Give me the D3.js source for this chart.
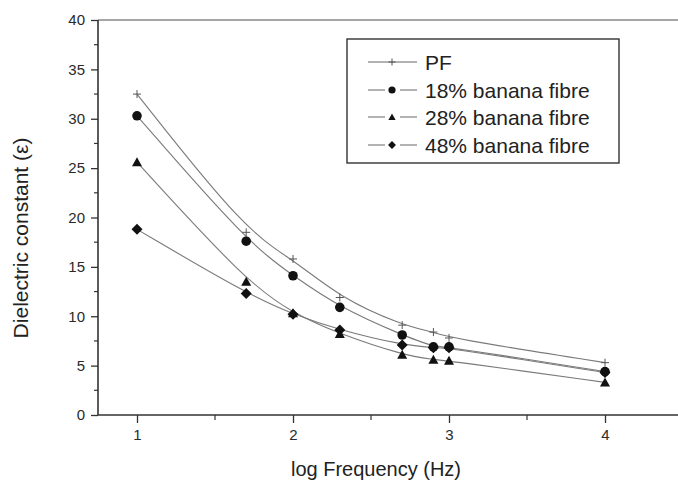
<!DOCTYPE html>
<html>
<head>
<meta charset="utf-8">
<script src="https://cdn.jsdelivr.net/npm/d3@7/dist/d3.min.js"></script>
<style>
  html, body { margin: 0; padding: 0; background: #fff; }
  svg { display: block; font-family: "Liberation Sans", Arial, sans-serif; }
</style>
</head>
<body>
<svg id="chart" width="678" height="486"></svg>
<script>
const freq = [1, 1.7, 2, 2.3, 2.7, 2.9, 3, 4];
const pf   = [32.5, 18.5, 15.8, 11.9, 9.1, 8.4, 7.8, 5.3];
const b18  = [30.3, 17.6, 14.1, 10.9, 8.1, 6.9, 6.9, 4.4];
const b28  = [25.6, 13.5, 10.3, 8.2, 6.1, 5.6, 5.5, 3.3];
const b48  = [18.8, 12.3, 10.2, 8.6, 7.1, 6.8, 6.8, 4.3];
const seriesNames = ["PF", "18% banana fibre", "28% banana fibre", "48% banana fibre"];
const seriesValues = [pf, b18, b28, b48];
const markerTypes = ["plus", "circle", "triangle", "diamond"];
const xTicks = [1, 2, 3, 4];
const xMinorTicks = [1.5, 2.5, 3.5];
const yTicks = [0, 5, 10, 15, 20, 25, 30, 35, 40];
const yMinorTicks = [2.5, 7.5, 12.5, 17.5, 22.5, 27.5, 32.5, 37.5];

const svg = d3.select("#chart");
const x = d3.scaleLinear().domain([0.75, 4.5]).range([98, 683]);
const y = d3.scaleLinear().domain([0, 40]).range([415, 20]);

const axisColor = "#333";

// top frame line
svg.append("line").attr("x1", 98).attr("x2", 678).attr("y1", y(40)).attr("y2", y(40))
  .attr("stroke", "#888").attr("stroke-width", 1.3);

// y axis
const yAxis = d3.axisLeft(y).tickValues(yTicks).tickSize(7).tickPadding(6).tickFormat(d3.format("d"));
const gy = svg.append("g").attr("transform", `translate(${x(0.75)},0)`).call(yAxis);
gy.selectAll("text").attr("font-size", 15).attr("fill", "#2a2a2a").attr("font-family", "Liberation Sans, Arial, sans-serif");
gy.selectAll(".tick line").attr("stroke", axisColor).attr("stroke-width", 1.3);
gy.select(".domain").remove();
gy.selectAll(".minor").data(yMinorTicks).enter().append("line")
  .attr("x1", -4).attr("x2", 0).attr("y1", d => y(d)).attr("y2", d => y(d))
  .attr("stroke", axisColor).attr("stroke-width", 1.2);
svg.append("line").attr("x1", x(0.75)).attr("x2", x(0.75)).attr("y1", y(40)).attr("y2", y(0))
  .attr("stroke", axisColor).attr("stroke-width", 1.6);

// x axis
const xAxis = d3.axisBottom(x).tickValues(xTicks).tickSize(8).tickPadding(6).tickFormat(d3.format("d"));
const gx = svg.append("g").attr("transform", `translate(0,${y(0)})`).call(xAxis);
gx.selectAll("text").attr("font-size", 15).attr("fill", "#2a2a2a").attr("font-family", "Liberation Sans, Arial, sans-serif");
gx.selectAll(".tick line").attr("stroke", axisColor).attr("stroke-width", 1.3);
gx.select(".domain").remove();
gx.selectAll(".minor").data(xMinorTicks).enter().append("line")
  .attr("x1", d => x(d)).attr("x2", d => x(d)).attr("y1", 0).attr("y2", 5)
  .attr("stroke", axisColor).attr("stroke-width", 1.2);
svg.append("line").attr("x1", x(0.75)).attr("x2", 678).attr("y1", y(0)).attr("y2", y(0))
  .attr("stroke", axisColor).attr("stroke-width", 1.6);

// titles
svg.append("text").attr("x", 376).attr("y", 476).attr("text-anchor", "middle")
  .attr("font-size", 20).attr("fill", "#222").text("log Frequency (Hz)");
svg.append("text").attr("transform", "translate(28,238) rotate(-90)").attr("text-anchor", "middle")
  .attr("font-size", 21).attr("fill", "#222").text("Dielectric constant (\u03b5)");

// markers
function drawMarker(g, type, cx, cy, s) {
  if (type === "plus") {
    g.append("path").attr("d", `M${cx - s},${cy}H${cx + s}M${cx},${cy - s}V${cy + s}`)
      .attr("stroke", "#555").attr("stroke-width", 1).attr("fill", "none");
  } else if (type === "circle") {
    g.append("circle").attr("cx", cx).attr("cy", cy).attr("r", s).attr("fill", "#111");
  } else if (type === "triangle") {
    const h = s * 1.8;
    g.append("path").attr("d", `M${cx},${cy - h * 0.55}L${cx + s},${cy + h * 0.45}L${cx - s},${cy + h * 0.45}Z`).attr("fill", "#111");
  } else if (type === "diamond") {
    g.append("path").attr("d", `M${cx},${cy - s * 1.1}L${cx + s * 1.1},${cy}L${cx},${cy + s * 1.1}L${cx - s * 1.1},${cy}Z`).attr("fill", "#111");
  }
}

const line = d3.line().x(d => x(d[0])).y(d => y(d[1])).curve(d3.curveBasis);
const gl = svg.append("g");
seriesValues.forEach(vals => {
  const pts = freq.map((f, i) => [f, vals[i]]);
  gl.append("path").attr("d", line(pts)).attr("fill", "none").attr("stroke", "#7a7a7a").attr("stroke-width", 1.1);
});
const gm = svg.append("g");
const markerSizes = [4, 4.8, 5, 5];
[3, 2, 1, 0].forEach(si => {
  freq.forEach((f, i) => drawMarker(gm, markerTypes[si], x(f), y(seriesValues[si][i]), markerSizes[si]));
});

// legend
const lg = svg.append("g");
lg.append("rect").attr("x", 347).attr("y", 39).attr("width", 272).attr("height", 124)
  .attr("fill", "#fff").attr("stroke", "#333").attr("stroke-width", 1.4);
const rowY = [62, 90, 117, 145];
seriesNames.forEach((name, i) => {
  const cy = rowY[i];
  if (i === 0) {
    lg.append("line").attr("x1", 368).attr("x2", 417).attr("y1", cy).attr("y2", cy).attr("stroke", "#666").attr("stroke-width", 1);
  } else {
    lg.append("line").attr("x1", 368).attr("x2", 385).attr("y1", cy).attr("y2", cy).attr("stroke", "#666").attr("stroke-width", 1);
    lg.append("line").attr("x1", 400).attr("x2", 417).attr("y1", cy).attr("y2", cy).attr("stroke", "#666").attr("stroke-width", 1);
  }
  drawMarker(lg, markerTypes[i], 392, cy, i === 0 ? 3.5 : 3.6);
  lg.append("text").attr("x", 425).attr("y", cy + 7.5).attr("font-size", 21).attr("fill", "#222").text(name);
});
</script>
</body>
</html>
